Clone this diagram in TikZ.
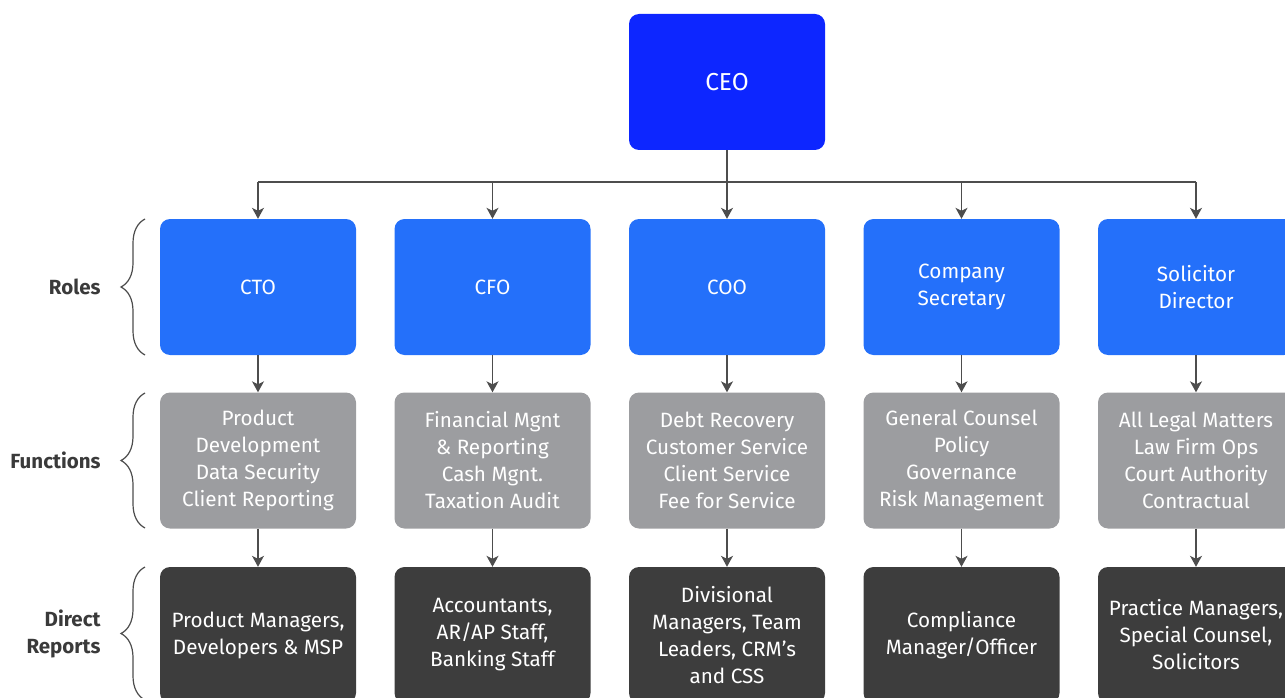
\documentclass[tikz,border=0pt]{standalone}
\usepackage{fontspec}
\setmainfont{Fira Sans}
\usetikzlibrary{arrows.meta,decorations.pathreplacing}
\definecolor{ceoblue}{HTML}{0D26FF}
\definecolor{roleblue}{HTML}{2470FA}
\definecolor{fungray}{HTML}{9C9DA0}
\definecolor{repdark}{HTML}{3D3D3D}
\definecolor{linegray}{HTML}{4D4D4D}
\definecolor{labelgray}{HTML}{3A3A3A}
\tikzset{
  box/.style={rounded corners=10pt, minimum width=196pt, minimum height=136pt,
    inner sep=0pt, text=white, align=center, font=\fontsize{20.7}{27}\selectfont},
  ceobox/.style={box, fill=ceoblue, font=\fontsize{24.5}{27}\selectfont},
  rolebox/.style={box, fill=roleblue},
  funbox/.style={box, fill=fungray},
  repbox/.style={box, fill=repdark},
  arr/.style={draw=linegray, line width=1.2pt, -{Stealth[length=11pt,width=12pt,inset=3pt]}},
  bus/.style={draw=linegray, line width=1.2pt},
  bracestyle/.style={draw=linegray, line width=1.2pt,
    decorate, decoration={brace, amplitude=24pt, aspect=0.5}},
  rowlabel/.style={text=labelgray, align=right, anchor=east,
    font=\fontsize{20.5}{27}\selectfont\bfseries}
}
\begin{document}
\begin{tikzpicture}[x=1pt,y=-1pt]
\useasboundingbox (0,0) rectangle (1285,698);
\clip (0,0) rectangle (1285,698);

% CEO
\node[ceobox] (ceo) at (727,82) {CEO};

% Roles
\node[rolebox] (cto) at (258,287) {CTO};
\node[rolebox] (cfo) at (492.5,287) {CFO};
\node[rolebox] (coo) at (727,287) {COO};
\node[rolebox] (cs) at (961.5,287) {Company\\Secretary};
\node[rolebox] (sd) at (1196,287) {Solicitor\\Director};

% Functions
\node[funbox] (fcto) at (258,460.5) {Product\\Development\\Data Security\\Client Reporting};
\node[funbox] (fcfo) at (492.5,460.5) {Financial Mgnt\\\& Reporting\\Cash Mgnt.\\Taxation Audit};
\node[funbox] (fcoo) at (727,460.5) {Debt Recovery\\Customer Service\\Client Service\\Fee for Service};
\node[funbox] (fcs) at (961.5,460.5) {General Counsel\\Policy\\Governance\\Risk Management};
\node[funbox] (fsd) at (1196,460.5) {All Legal Matters\\Law Firm Ops\\Court Authority\\Contractual};

% Direct reports
\node[repbox] (rcto) at (258,635) {Product Managers,\\Developers \& MSP};
\node[repbox] (rcfo) at (492.5,635) {Accountants,\\AR/AP Staff,\\Banking Staff};
\node[repbox] (rcoo) at (727,635) {Divisional\\Managers, Team\\Leaders, CRM’s\\and CSS};
\node[repbox] (rcs) at (961.5,635) {Compliance\\Manager/Officer};
\node[repbox] (rsd) at (1196,635) {Practice Managers,\\Special Counsel,\\Solicitors};

% Bus
\coordinate (busL) at (258,182);
\coordinate (busR) at (1196,182);
\draw[bus] (busL) -- (busR);
\draw[arr] (ceo.south) -- (coo.north);
\foreach \n in {cto,cfo,cs,sd}{
  \draw[arr] (\n.north |- busL) -- (\n.north);
}

% Vertical arrows
\foreach \a/\b in {cto/fcto,cfo/fcfo,coo/fcoo,cs/fcs,sd/fsd,fcto/rcto,fcfo/rcfo,fcoo/rcoo,fcs/rcs,fsd/rsd}{
  \draw[arr] (\a.south) -- (\b.north);
}

% Braces
\coordinate (b1t) at (145,219);
\coordinate (b1b) at (145,355);
\coordinate (b2t) at (145,393);
\coordinate (b2b) at (145,528);
\coordinate (b3t) at (145,567);
\coordinate (b3b) at (145,700);
\draw[bracestyle] (b1b) -- (b1t);
\draw[bracestyle] (b2b) -- (b2t);
\draw[bracestyle] (b3b) -- (b3t);

% Labels
\node[rowlabel] (lroles) at (104,287) {Roles};
\node[rowlabel] (lfun) at (104,460) {Functions};
\node[rowlabel] (lrep) at (104,634) {Direct\\Reports};
\end{tikzpicture}
\end{document}
